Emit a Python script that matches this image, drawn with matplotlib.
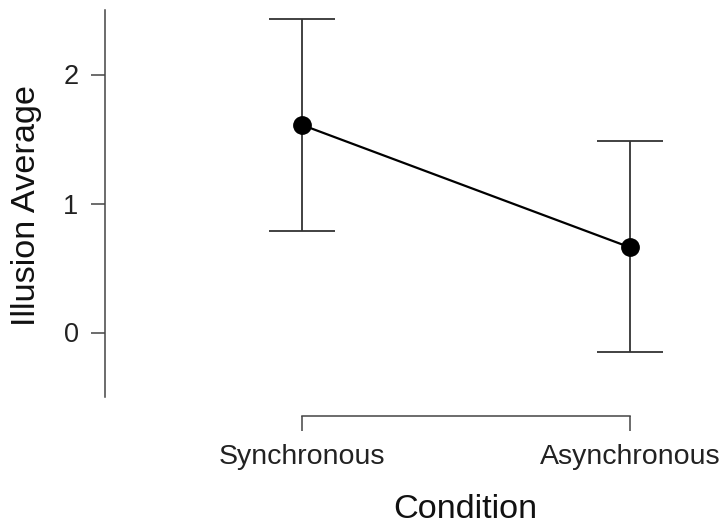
import numpy as np
import matplotlib.pyplot as plt

plt.rcParams['font.family'] = ['Liberation Sans', 'DejaVu Sans']

# --- data ---
conditions = ["Synchronous", "Asynchronous"]
means = [1.61, 0.66]
ci_upper = [2.43, 1.485]
ci_lower = [0.79, -0.155]
y_ticks = [0, 1, 2]

x = np.arange(len(conditions))
means = np.array(means)
err = [means - np.array(ci_lower), np.array(ci_upper) - means]

W, H = 723, 526
fig = plt.figure(figsize=(W / 100, H / 100), dpi=100)
ax = fig.add_axes([105 / W, (H - 397) / H, (712 - 105) / W, (397 - 10) / H])

axis_col = '#444444'
ax.errorbar(x, means, yerr=err, fmt='none', ecolor='#333333', elinewidth=1.3,
            capsize=23.5, capthick=1.3, zorder=2)
ax.plot(x, means, color='black', lw=1.6, zorder=3)
ax.plot(x, means, 'o', color='black', markersize=12.5, zorder=4)

ax.set_xlim(-0.599, 1.25)
ax.set_ylim(-0.5, 2.5)
ax.set_xticks(x)
ax.set_xticklabels(conditions)
ax.set_yticks(y_ticks)

for s in ['top', 'right']:
    ax.spines[s].set_visible(False)
ax.spines['left'].set_bounds(-0.5, 2.5)
ax.spines['bottom'].set_bounds(0, 1)
ax.spines['bottom'].set_position(('outward', 14))
for s in ['left', 'bottom']:
    ax.spines[s].set_color(axis_col)
    ax.spines[s].set_linewidth(1.1)

ax.tick_params(axis='y', length=10, width=1.1, color=axis_col, pad=9,
               labelsize=19.5, labelcolor='#222222')
ax.tick_params(axis='x', length=11, width=1.1, color=axis_col, pad=9,
               labelsize=20.5, labelcolor='#222222')

fig.text(465 / W, 1 - 510 / H, 'Condition', ha='center', va='center',
         fontsize=24.7, color='#111111')
fig.text(27 / W, 1 - 205 / H, 'Illusion Average', ha='center', va='center',
         rotation=90, fontsize=24.7, color='#111111')

fig.savefig('out.png', dpi=100)
